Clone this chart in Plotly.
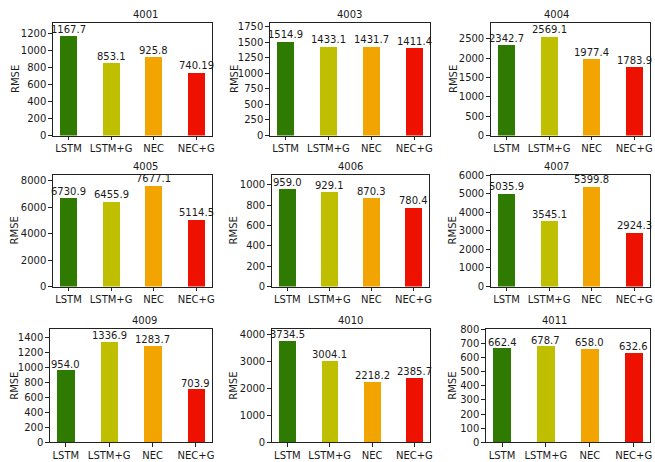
import plotly.graph_objects as go

W, H = 655, 462

models = ["LSTM", "LSTM+G", "NEC", "NEC+G"]
colors = ["#2f7a00", "#bfbf00", "#f2a500", "#ee1100"]

titles = ["4001", "4003", "4004", "4005", "4006", "4007", "4009", "4010", "4011"]
rmse_4001 = [1167.7, 853.1, 925.8, 740.19]
rmse_4003 = [1514.9, 1433.1, 1431.7, 1411.4]
rmse_4004 = [2342.7, 2569.1, 1977.4, 1783.9]
rmse_4005 = [6730.9, 6455.9, 7677.1, 5114.5]
rmse_4006 = [959.0, 929.1, 870.3, 780.4]
rmse_4007 = [5035.9, 3545.1, 5399.8, 2924.3]
rmse_4009 = [954.0, 1336.9, 1283.7, 703.9]
rmse_4010 = [3734.5, 3004.1, 2218.2, 2385.7]
rmse_4011 = [662.4, 678.7, 658.0, 632.6]
labels_4001 = ["1167.7", "853.1", "925.8", "740.19"]
values = [rmse_4001, rmse_4003, rmse_4004, rmse_4005, rmse_4006,
          rmse_4007, rmse_4009, rmse_4010, rmse_4011]

y_max = [1326, 1812, 2920, 8490, 1101, 6035, 1507, 4180, 800]
y_dtick = [200, 250, 500, 2000, 200, 1000, 200, 1000, 100]

# frame boxes in pixels: (left, right, top, bottom)
frames = [
    (53, 213, 17, 133), (271, 432, 17, 133), (493, 653, 17, 133),
    (53, 213, 173, 288), (273, 431, 173, 288), (493, 653, 173, 288),
    (50, 213, 332, 448), (273, 432, 332, 448), (488, 653, 332, 448),
]
ylab_x = [15, 235, 455]

fig = go.Figure()
annotations = []
font = dict(family="DejaVu Sans", size=10, color="#1a1a1a")

for i, (t, vals) in enumerate(zip(titles, values)):
    n = i + 1
    xa = "x" if n == 1 else f"x{n}"
    ya = "y" if n == 1 else f"y{n}"
    l, r, tp, b = frames[i]
    fig.add_trace(go.Bar(
        x=list(range(len(models))), y=vals, width=0.4,
        marker=dict(color=colors, line=dict(width=0)),
        xaxis=xa, yaxis=ya, showlegend=False, hoverinfo="skip"))
    axkw = dict(showline=True, mirror=True, linecolor="#222", linewidth=1,
                ticks="outside", ticklen=3.5, tickwidth=0.8, tickcolor="#222",
                showgrid=False, zeroline=False, tickfont=font)
    fig.layout[f"xaxis{'' if n == 1 else n}"] = dict(
        domain=[l / W, r / W], anchor=ya, range=[-0.37, 3.37],
        tickmode="array", tickvals=list(range(len(models))), ticktext=models,
        **axkw)
    fig.layout[f"yaxis{'' if n == 1 else n}"] = dict(
        domain=[1 - b / H, 1 - tp / H], anchor=xa, range=[0, y_max[i]],
        dtick=y_dtick[i], tick0=0, **axkw)
    # value labels
    txts = labels_4001 if i == 0 else [f"{v:.1f}" for v in vals]
    for k, (v, s) in enumerate(zip(vals, txts)):
        annotations.append(dict(x=k, y=v, xref=xa, yref=ya, text=s,
                                showarrow=False, yanchor="bottom",
                                xanchor="center", font=font, borderpad=0))
    # title
    annotations.append(dict(x=(l + r) / 2 / W, y=1 - (tp - 2) / H,
                            xref="paper", yref="paper", text=t,
                            showarrow=False, yanchor="bottom", font=font,
                            borderpad=0))
    # y label
    annotations.append(dict(x=ylab_x[i % 3] / W, y=1 - (tp + b) / 2 / H,
                            xref="paper", yref="paper", text="RMSE",
                            textangle=-90, showarrow=False, font=font,
                            xanchor="center", yanchor="middle"))

fig.update_layout(width=W, height=H, margin=dict(l=0, r=0, t=0, b=0),
                  paper_bgcolor="white", plot_bgcolor="white",
                  annotations=annotations, bargap=0)
fig.write_html("out.html", config={"displayModeBar": False},
               post_script="document.body.style.margin='0';"
                           "document.body.style.overflow='hidden';")
